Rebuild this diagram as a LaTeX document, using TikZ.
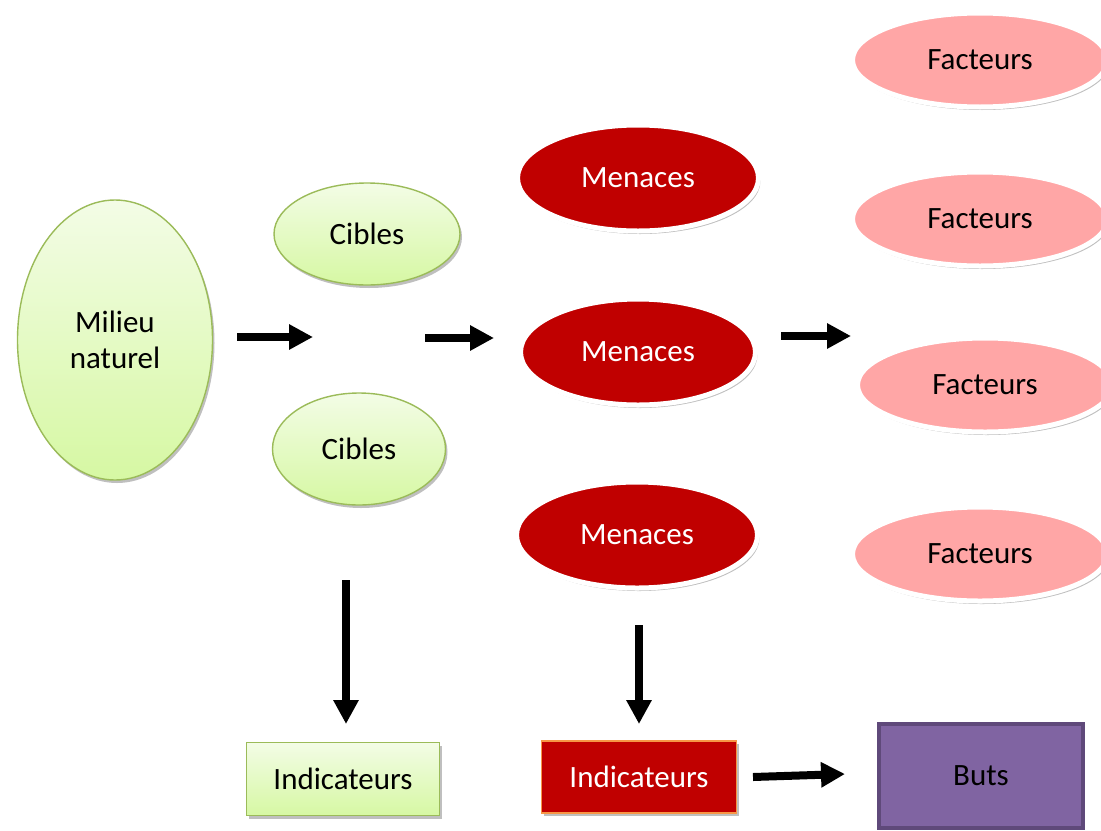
\documentclass[tikz,border=0pt]{standalone}
\usepackage{fontspec}
\setmainfont{Carlito}
\usetikzlibrary{shapes.geometric,shadows,arrows.meta}
\definecolor{gtop}{HTML}{F3FCE6}
\definecolor{gbot}{HTML}{D6F8A3}
\definecolor{gborder}{HTML}{9BBB59}
\definecolor{menred}{HTML}{C00000}
\definecolor{pinkf}{HTML}{FFA6A6}
\definecolor{orangeb}{HTML}{F79646}
\definecolor{butsfill}{HTML}{8064A2}
\definecolor{butsborder}{HTML}{5F497A}
\begin{document}
\begin{tikzpicture}[x=0.5pt,y=-0.5pt,
  base/.style={font=\fontsize{15.5}{18}\selectfont, inner sep=0pt, align=center},
  softshadow/.style={drop shadow={shadow xshift=1pt,shadow yshift=-1.5pt,opacity=0.25,fill=black}},
  greenell/.style={base, ellipse, top color=gtop, bottom color=gbot, draw=gborder, line width=0.7pt, softshadow},
  redell/.style={base, ellipse, fill=menred, draw=white, line width=2.5pt, text=white, minimum width=120.5pt, minimum height=53pt, softshadow},
  pinkell/.style={base, ellipse, fill=pinkf, draw=white, line width=2.5pt, minimum width=127.5pt, minimum height=47pt, softshadow},
  greenbox/.style={base, rectangle, top color=gtop, bottom color=gbot, draw=gborder, line width=0.8pt, minimum width=96.5pt, minimum height=36.5pt, softshadow},
  redbox/.style={base, rectangle, fill=menred, draw=orangeb, line width=0.8pt, text=white, minimum width=97.5pt, minimum height=36pt, softshadow},
  butsbox/.style={base, rectangle, fill=butsfill, draw=butsborder, line width=2pt, minimum width=102pt, minimum height=52pt},
  blockarrow/.style={line width=4pt, -{Triangle[length=12pt,width=12pt]}}
]
\useasboundingbox (0,0) rectangle (1101,830);
\clip (0,0) rectangle (1101,830);

\node[greenell, minimum width=97.5pt, minimum height=140pt] (milieu) at (115,340) {Milieu\\naturel};
\node[greenell, minimum width=93pt, minimum height=51pt] (cib1) at (367,234) {Cibles};
\node[greenell, minimum width=86.5pt, minimum height=56pt] (cib2) at (359,449) {Cibles};

\node[redell] (men1) at (638,178) {Menaces};
\node[redell, minimum width=117.5pt] (men2) at (638,352) {Menaces};
\node[redell] (men3) at (637,535) {Menaces};

\node[pinkell] (fac1) at (980,60) {Facteurs};
\node[pinkell] (fac2) at (980,219) {Facteurs};
\node[pinkell] (fac3) at (985,385) {Facteurs};
\node[pinkell] (fac4) at (980,554) {Facteurs};

\node[greenbox] (ind1) at (343,779) {Indicateurs};
\node[redbox] (ind2) at (639,777) {Indicateurs};
\node[butsbox] (buts) at (981,776) {Buts};

\coordinate (a1s) at (237,337); \coordinate (a1e) at (313,337);
\coordinate (a2s) at (425,338); \coordinate (a2e) at (494,338);
\coordinate (a3s) at (781,336); \coordinate (a3e) at (851,336);
\coordinate (a4s) at (346,580); \coordinate (a4e) at (346,724);
\coordinate (a5s) at (639,625); \coordinate (a5e) at (639,724);
\coordinate (a6s) at (753,777); \coordinate (a6e) at (845,774);

\draw[blockarrow] (a1s) -- (a1e);
\draw[blockarrow] (a2s) -- (a2e);
\draw[blockarrow] (a3s) -- (a3e);
\draw[blockarrow] (a4s) -- (a4e);
\draw[blockarrow] (a5s) -- (a5e);
\draw[blockarrow] (a6s) -- (a6e);
\end{tikzpicture}
\end{document}
